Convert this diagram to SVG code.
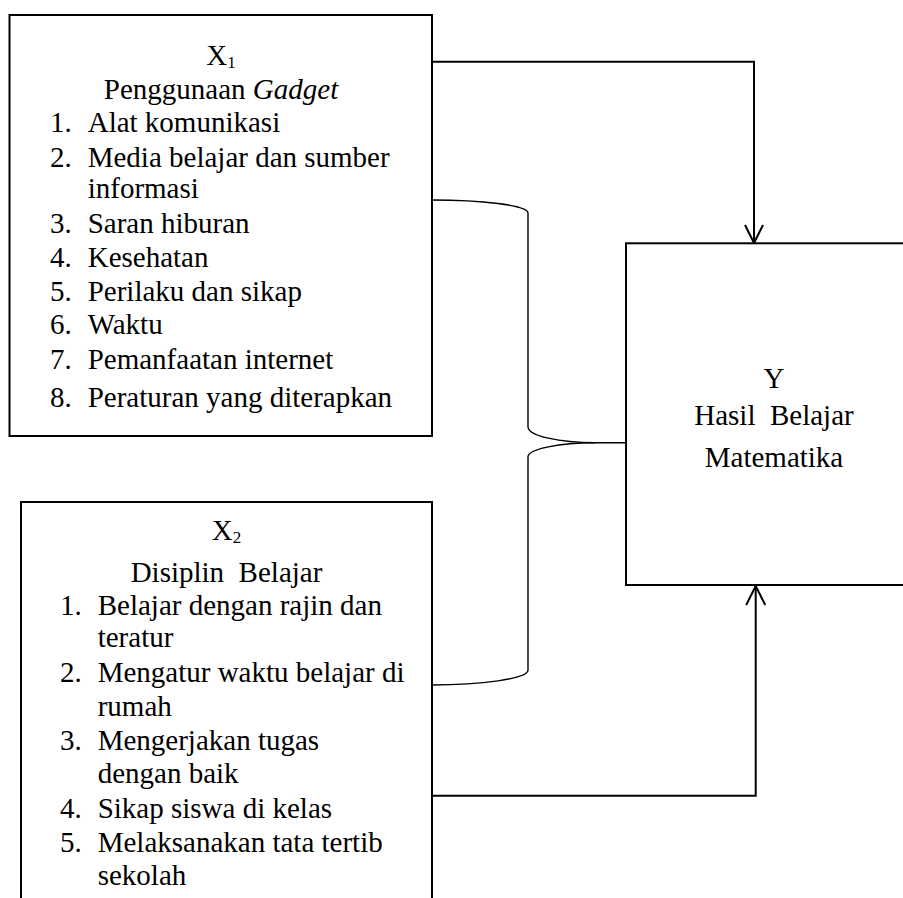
<svg xmlns="http://www.w3.org/2000/svg" width="903" height="898" viewBox="0 0 903 898">
<style>
.box{fill:#fff;stroke:#000;stroke-width:2}
.t{font-family:"Liberation Serif","Times New Roman",serif;font-size:29px;fill:#000}
.c{text-anchor:middle}
.ln{fill:none;stroke:#000;stroke-width:2}
.br{fill:none;stroke:#000;stroke-width:1.4}
</style>
<rect width="903" height="898" fill="#fff"/>
<g id="connectors">
<path class="ln" d="M432,61.7 H754 V243"/>
<path class="ln" d="M745,225 L754,243 L763,225"/>
<path class="ln" d="M432,795.7 H755.7 V586"/>
<path class="ln" d="M746.2,605 L755.7,586 L765.2,605"/>
<path class="br" d="M432,200 C480,200 528,205 528,213 V426.7 C528,436 560,442.7 595,442.7 H626"/>
<path class="br" d="M595,442.7 C560,442.7 528,449 528,456.7 V670 C528,679 480,685 432,685"/>
</g>
<g id="x1">
<rect class="box" x="9.5" y="15" width="422.5" height="421"/>
<text class="t c" x="221" y="65">X<tspan font-size="17" dy="3">1</tspan></text>
<text class="t c" x="221" y="99">Penggunaan <tspan font-style="italic">Gadget</tspan></text>
<text class="t" x="50" y="131.7">1.</text><text class="t" x="87.7" y="131.7">Alat komunikasi</text>
<text class="t" x="50" y="167">2.</text><text class="t" x="87.7" y="167">Media belajar dan sumber</text>
<text class="t" x="87.7" y="198">informasi</text>
<text class="t" x="50" y="233">3.</text><text class="t" x="87.7" y="233">Saran hiburan</text>
<text class="t" x="50" y="267">4.</text><text class="t" x="87.7" y="267">Kesehatan</text>
<text class="t" x="50" y="300.5">5.</text><text class="t" x="87.7" y="300.5">Perilaku dan sikap</text>
<text class="t" x="50" y="334">6.</text><text class="t" x="87.7" y="334">Waktu</text>
<text class="t" x="50" y="369">7.</text><text class="t" x="87.7" y="369">Pemanfaatan internet</text>
<text class="t" x="50" y="407">8.</text><text class="t" x="87.7" y="407">Peraturan yang diterapkan</text>
</g>
<g id="x2">
<rect class="box" x="21" y="502" width="411" height="420"/>
<text class="t c" x="226.5" y="540">X<tspan font-size="17" dy="3">2</tspan></text>
<text class="t c" x="226.5" y="581.7" xml:space="preserve">Disiplin  Belajar</text>
<text class="t" x="60" y="615">1.</text><text class="t" x="97.7" y="615">Belajar dengan rajin dan</text>
<text class="t" x="97.7" y="646.7">teratur</text>
<text class="t" x="60" y="681.7">2.</text><text class="t" x="97.7" y="681.7">Mengatur waktu belajar di</text>
<text class="t" x="97.7" y="715.7">rumah</text>
<text class="t" x="60" y="750">3.</text><text class="t" x="97.7" y="750">Mengerjakan tugas</text>
<text class="t" x="97.7" y="783">dengan baik</text>
<text class="t" x="60" y="818">4.</text><text class="t" x="97.7" y="818">Sikap siswa di kelas</text>
<text class="t" x="60" y="851.7">5.</text><text class="t" x="97.7" y="851.7">Melaksanakan tata tertib</text>
<text class="t" x="97.7" y="885">sekolah</text>
</g>
<g id="y">
<rect class="box" x="626" y="243.3" width="300" height="341.7"/>
<text class="t c" x="774" y="388">Y</text>
<text class="t c" x="774" y="425" xml:space="preserve">Hasil  Belajar</text>
<text class="t c" x="774" y="466.7">Matematika</text>
</g>
</svg>
